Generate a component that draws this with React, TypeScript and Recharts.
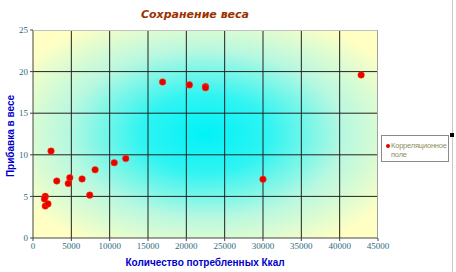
import { ScatterChart, Scatter, XAxis, YAxis, CartesianGrid, Legend } from 'recharts';

const kcal = [1600, 1500, 1600, 1950, 2350, 3100, 4600, 4800, 6400, 7400, 8100, 10600, 12100, 16900, 20400, 22500, 22500, 30000, 42800];
const gain = [5.0, 4.7, 3.85, 4.1, 10.45, 6.85, 6.55, 7.25, 7.1, 5.15, 8.2, 9.05, 9.55, 18.75, 18.4, 18.2, 18.05, 7.05, 19.6];
const xTicks = [0, 5000, 10000, 15000, 20000, 25000, 30000, 35000, 40000, 45000];
const yTicks = [0, 5, 10, 15, 20, 25];
const seriesName = 'Корреляционное поле';

const points = kcal.map((x, i) => ({ x, y: gain[i] }));

const tickStyle = { fill: '#2f6b80', fontSize: 9, fontFamily: '"Liberation Serif", serif' };

function LegendBox() {
  return (
    <div
      style={{
        position: 'absolute',
        left: 381,
        top: 135,
        width: 68,
        height: 27,
        border: '1px solid #8a8a8a',
        background: '#fff',
        boxSizing: 'border-box',
        fontFamily: '"Liberation Sans", Arial, sans-serif',
        fontSize: 7.5,
        letterSpacing: -0.2,
        color: '#8f8f5c',
        lineHeight: '9px',
        padding: '5px 0 0 9px',
      }}
    >
      <span
        style={{
          position: 'absolute',
          left: 4,
          top: 8,
          width: 4,
          height: 4,
          borderRadius: 2,
          background: '#e00000',
        }}
      />
      <div style={{ whiteSpace: 'nowrap' }}>Корреляционное</div>
      <div>поле</div>
    </div>
  );
}

export default function App() {
  return (
    <div style={{ position: 'absolute', left: 0, top: 0, width: 456, height: 272, background: '#fff', overflow: 'hidden' }}>
      <ScatterChart width={456} height={272} margin={{ top: 30, right: 78, bottom: 0, left: 0 }}>
        <defs>
          <radialGradient id="bgFill" cx="0.5" cy="0.5" r="0.62">
            <stop offset="0%" stopColor="#00f2f8" />
            <stop offset="30%" stopColor="#30f4f2" />
            <stop offset="65%" stopColor="#b8f8e0" />
            <stop offset="100%" stopColor="#ffffc4" />
          </radialGradient>
        </defs>
        <CartesianGrid
          stroke="#222"
          strokeWidth={1}
          fill="url(#bgFill)"
          fillOpacity={1}
          horizontalValues={[5, 10, 15, 20]}
          verticalValues={[5000, 10000, 15000, 20000, 25000, 30000, 35000, 40000]}
        />
        <XAxis
          type="number"
          dataKey="x"
          domain={[0, 45000]}
          ticks={xTicks}
          interval={0}
          height={34}
          tick={tickStyle}
          tickSize={3}
          stroke="#444"
        />
        <YAxis
          type="number"
          dataKey="y"
          domain={[0, 25]}
          ticks={yTicks}
          interval={0}
          width={33}
          tick={tickStyle}
          tickSize={3}
          stroke="#444"
        />
        <Legend content={() => null} />
        <Scatter
          name={seriesName}
          data={points}
          fill="#e60000"
          isAnimationActive={false}
          shape={(p: any) => <circle cx={p.cx} cy={p.cy} r={3.3} fill="#e60000" stroke="#ff4400" strokeWidth={0.5} />}
        />
      </ScatterChart>
      <div
        style={{
          position: 'absolute',
          left: 33,
          top: 30,
          width: 345,
          height: 208,
          borderTop: '1px solid #c0c0c0',
          borderRight: '1px solid #a0a0a0',
          boxSizing: 'border-box',
          pointerEvents: 'none',
        }}
      />
      <div
        style={{
          position: 'absolute',
          left: 0,
          top: 8,
          width: 390,
          textAlign: 'center',
          fontFamily: '"DejaVu Sans", sans-serif',
          fontStyle: 'italic',
          fontWeight: 'bold',
          fontSize: 11,
          color: '#993300',
        }}
      >
        Сохранение веса
      </div>
      <div
        style={{
          position: 'absolute',
          left: 0,
          top: 257,
          width: 410,
          textAlign: 'center',
          fontFamily: '"Liberation Sans", Arial, sans-serif',
          fontWeight: 'bold',
          fontSize: 10,
          color: '#0000cc',
        }}
      >
        Количество потребленных Ккал
      </div>
      <div
        style={{
          position: 'absolute',
          left: 10,
          top: 136,
          transform: 'translate(-50%, -50%) rotate(-90deg)',
          whiteSpace: 'nowrap',
          fontFamily: '"Liberation Sans", Arial, sans-serif',
          fontWeight: 'bold',
          fontSize: 10,
          color: '#0000cc',
        }}
      >
        Прибавка в весе
      </div>
      <LegendBox />
      <div style={{ position: 'absolute', left: 452, top: 0, width: 1, height: 272, background: '#c8c8c8' }} />
      <div style={{ position: 'absolute', left: 450, top: 133, width: 4, height: 4, background: '#000' }} />
    </div>
  );
}
